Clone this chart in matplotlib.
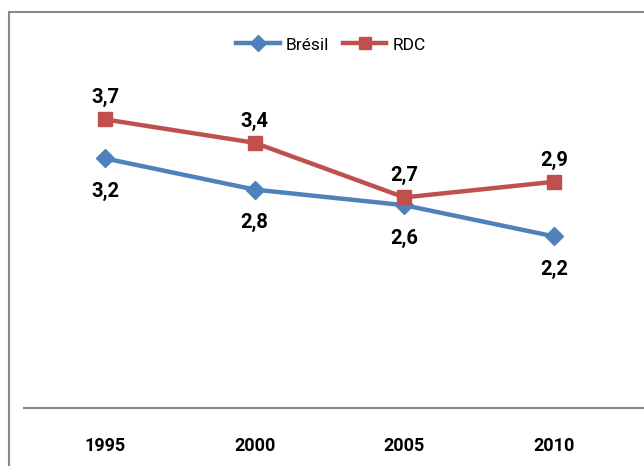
import matplotlib
matplotlib.use("Agg")
import matplotlib.pyplot as plt
from matplotlib.patches import Rectangle

# Data
years = ["1995", "2000", "2005", "2010"]
bresil = [3.2, 2.8, 2.6, 2.2]
rdc = [3.7, 3.4, 2.7, 2.9]

BLUE = "#4F81BD"
RED = "#C0504D"
FONT = ["Roboto", "DejaVu Sans"]

plt.rcParams["font.family"] = FONT

W, H = 644, 466
fig = plt.figure(figsize=(W / 100, H / 100), dpi=100)
fig.patch.set_facecolor("white")

# plot area in pixel terms
left_px, right_px, top_px, bottom_px = 24, 644, 57, 408
ax = fig.add_axes([left_px / W, 1 - bottom_px / H,
                   (right_px - left_px) / W, (bottom_px - top_px) / H])

x = list(range(len(years)))
ax.plot(x, bresil, color=BLUE, lw=3.2, marker="D", ms=9,
        mfc=BLUE, mec=BLUE, label="Brésil", zorder=3)
ax.plot(x, rdc, color=RED, lw=3.2, marker="s", ms=10,
        mfc=RED, mec=RED, label="RDC", zorder=3)

# value labels: Brésil below, RDC above
for xi, v in zip(x, bresil):
    ax.annotate(f"{v:.1f}".replace(".", ","), (xi, v), xytext=(0, -24),
                textcoords="offset points", ha="center", va="center",
                fontsize=14.5, fontweight="bold", color="black")
for xi, v in zip(x, rdc):
    ax.annotate(f"{v:.1f}".replace(".", ","), (xi, v), xytext=(0, 15.5),
                textcoords="offset points", ha="center", va="center",
                fontsize=14.5, fontweight="bold", color="black")

ax.set_ylim(0, 4.5)
ax.set_xlim(-0.541, 3.601)
ax.set_xticks(x)
ax.set_xticklabels(years, fontsize=13, fontweight="bold")
ax.tick_params(axis="x", length=0, pad=21)
ax.set_yticks([])

for side in ["top", "right", "left"]:
    ax.spines[side].set_visible(False)
ax.spines["bottom"].set_color("#868686")
ax.spines["bottom"].set_linewidth(1.5)

leg = fig.legend(loc="center", bbox_to_anchor=(331 / W, 1 - 45 / H),
                 ncol=2, frameon=False, fontsize=12.5, handlelength=2.5,
                 columnspacing=0.8, handletextpad=0.35, markerscale=0.85)

# outer chart border (cut off at right and bottom)
fig.patches.append(Rectangle((8.5 / W, -0.1), 1.2, 1.1 - 11.5 / H,
                             transform=fig.transFigure, fill=False,
                             edgecolor="#898989", lw=1.5))

fig.savefig("out.png", dpi=100)
